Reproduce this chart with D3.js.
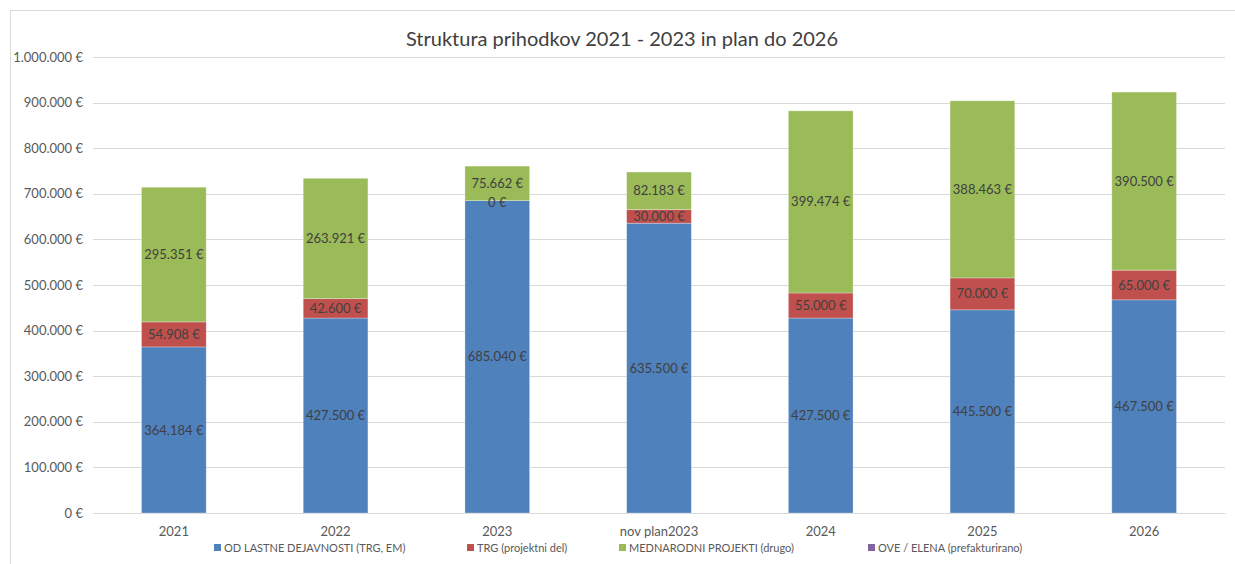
<!DOCTYPE html>
<html><head><meta charset="utf-8">
<script src="https://cdn.jsdelivr.net/npm/d3@7"></script>
<style>body{margin:0;background:#fff;}svg{display:block;font-family:Lato,"Open Sans",sans-serif;}</style>
</head><body>
<svg id="c" width="1235" height="564"></svg>
<script>
const categories = ["2021","2022","2023","nov plan2023","2024","2025","2026"];
const seriesNames = ["OD LASTNE DEJAVNOSTI (TRG, EM)","TRG (projektni del)","MEDNARODNI PROJEKTI (drugo)","OVE / ELENA (prefakturirano)"];
const lastna = [364184,427500,685040,635500,427500,445500,467500];
const trg = [54908,42600,0,30000,55000,70000,65000];
const mednarodni = [295351,263921,75662,82183,399474,388463,390500];
const ove = [0,0,0,0,0,0,0];
const yTicks = [0,100000,200000,300000,400000,500000,600000,700000,800000,900000,1000000];
const title = "Struktura prihodkov 2021 - 2023 in plan do 2026";
const colors = ["#4F81BD","#C0504D","#9BBB59","#8064A2"];

const loc = d3.formatLocale({decimal:",",thousands:".",grouping:[3],currency:[""," €"]});
const fmt = v => loc.format(",.0f")(v) + " €";

const svg = d3.select("#c");
const W = 1235, H = 564;
svg.append("rect").attr("x",10.5).attr("y",10.5).attr("width",W).attr("height",H)
  .attr("fill","none").attr("stroke","#d9d9d9").attr("stroke-width",1);

const pLeft = 93, pRight = 1225, pTop = 57, pBottom = 513;
const x = d3.scaleBand().domain(categories).range([pLeft,pRight]).paddingInner(0.6).paddingOuter(0.3);
const y = d3.scaleLinear().domain([0,1000000]).range([pBottom,pTop]);

svg.append("g").selectAll("line").data(yTicks).join("line")
  .attr("x1",pLeft).attr("x2",pRight)
  .attr("y1",d=>Math.round(y(d))+0.5).attr("y2",d=>Math.round(y(d))+0.5)
  .attr("stroke","#d9d9d9").attr("stroke-width",1);

const yAxis = d3.axisLeft(y).tickValues(yTicks).tickFormat(fmt).tickSize(0).tickPadding(10);
const ya = svg.append("g").attr("transform",`translate(${pLeft},0)`).call(yAxis);
ya.select(".domain").remove();
ya.selectAll("text").attr("fill","#595959").style("font-size","13px").style("font-family","Lato,sans-serif");

const xAxis = d3.axisBottom(x).tickSize(0).tickPadding(14);
const xa = svg.append("g").attr("transform",`translate(0,${pBottom})`).call(xAxis);
xa.select(".domain").attr("stroke","#d9d9d9");
xa.selectAll("text").attr("fill","#595959").style("font-size","13px").style("font-family","Lato,sans-serif");

const rows = categories.map((c,i)=>({cat:c, s0:lastna[i], s1:trg[i], s2:mednarodni[i], s3:ove[i]}));
const stack = d3.stack().keys(["s0","s1","s2","s3"])(rows);

const bw = x.bandwidth();
stack.forEach((layer,li)=>{
  svg.append("g").selectAll("rect").data(layer).join("rect")
    .attr("x",d=>x(d.data.cat)).attr("width",bw)
    .attr("y",d=>y(d[1])).attr("height",d=>Math.max(0,y(d[0])-y(d[1])))
    .attr("fill",colors[li]).attr("stroke","#ffffff").attr("stroke-opacity",0.35).attr("stroke-width",0.8);
});
stack.slice(0,3).forEach((layer,li)=>{
  svg.append("g").selectAll("text").data(layer).join("text")
    .attr("x",d=>x(d.data.cat)+bw/2)
    .attr("y",d=>(y(d[0])+y(d[1]))/2 + (d[1]-d[0]===0 ? 1.5 : 0))
    .attr("dy","0.35em").attr("text-anchor","middle")
    .attr("fill","#404040").style("font-size","13px")
    .text(d=>fmt(d[1]-d[0]));
});

svg.append("text").attr("x",622).attr("y",46).attr("text-anchor","middle")
  .attr("fill","#404040").style("font-size","20px").text(title);

const legX = [214,467,619,868];
const lg = svg.append("g");
seriesNames.forEach((n,i)=>{
  lg.append("rect").attr("x",legX[i]).attr("y",544).attr("width",7).attr("height",7).attr("fill",colors[i]);
  lg.append("text").attr("x",legX[i]+10).attr("y",551.5).attr("fill","#595959").style("font-size","11px").text(n);
});
</script>
</body></html>
